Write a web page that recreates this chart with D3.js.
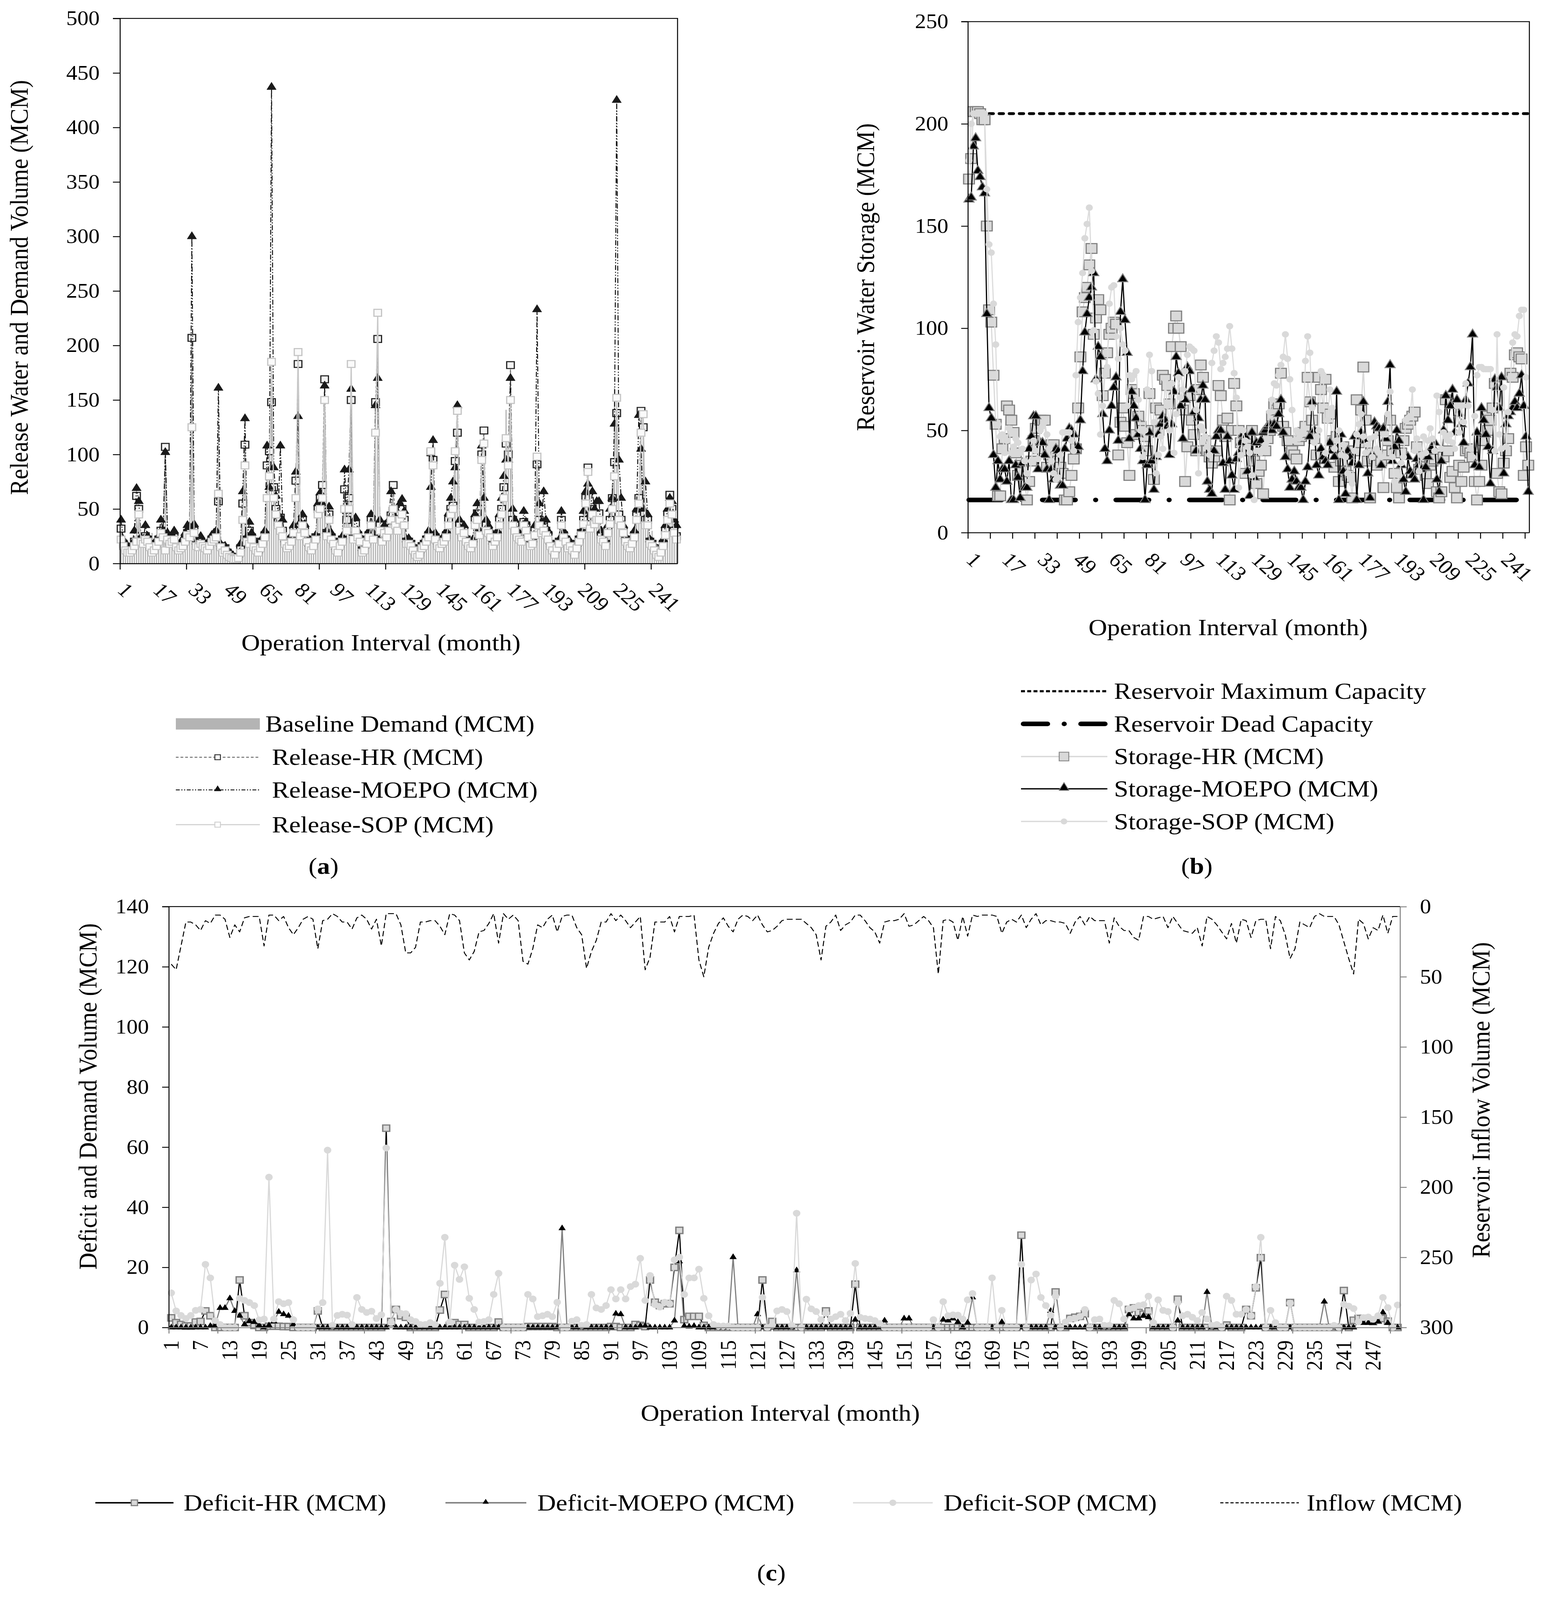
<!DOCTYPE html>
<html><head><meta charset="utf-8">
<script src="https://cdn.jsdelivr.net/npm/d3@7/dist/d3.min.js"></script>
<style>html,body{margin:0;padding:0;background:#fff;overflow:hidden;width:100%;height:100%;}
#chart{display:block;width:100vw;height:100vh;}</style>
</head><body>
<svg id="chart" viewBox="0 0 3954 4509" preserveAspectRatio="none" xmlns="http://www.w3.org/2000/svg"></svg>
<script>
// ---------------- DATA ----------------
const months = d3.range(1, 253);           // operation intervals 1..252
const xLabelsAB = [1,17,33,49,65,81,97,113,129,145,161,177,193,209,225,241];
const xLabelsC = [1,7,13,19,25,31,37,43,49,55,61,67,73,79,85,91,97,103,109,115,121,127,133,139,145,151,157,163,169,175,181,187,193,199,205,211,217,223,229,235,241,247];
const yTicksA = [0,50,100,150,200,250,300,350,400,450,500];
const yTicksB = [0,50,100,150,200,250];
const yTicksC = [0,20,40,60,80,100,120,140];
const yTicksCR = [0,50,100,150,200,250,300];
const maxCapacity = 205;
const deadCapacity = 16;

const demand = [35,20,15,12,12,16,22,68,54,22,20,25,
22,18,28,14,18,22,30,26,107,24,20,22,
24,16,14,16,18,22,28,28,207,30,18,16,
20,18,16,14,18,22,24,26,123,18,18,18,
13,8,6,5,4,6,14,61,120,23,32,25,
21,14,12,16,20,26,90,105,148,70,50,38,
42,30,20,16,18,22,30,76,183,30,40,30,
22,16,14,18,24,50,60,72,169,28,45,24,
20,14,12,18,22,68,40,60,150,26,36,26,
22,12,14,20,26,40,24,148,206,35,22,30,
26,52,44,74,38,35,45,50,40,20,20,18,
14,10,8,10,22,18,22,26,102,109,24,18,
16,20,22,26,40,50,53,94,120,35,26,30,
22,18,16,20,40,46,28,100,122,35,30,26,
18,22,26,40,50,70,141,100,182,40,35,26,
24,34,38,35,29,21,24,35,91,40,30,36,
30,26,18,14,10,22,27,45,30,27,16,18,
14,10,16,22,28,49,60,88,36,50,40,45,
47,26,22,18,36,44,73,161,138,45,40,30,
22,26,16,20,26,44,60,140,125,40,40,20,
30,14,12,11,15,20,32,47,66,52,30,25];

const releaseHR = [32,18,14,12,12,14,20,62,50,22,20,25,
22,16,12,14,18,22,30,26,107,24,20,22,
24,16,14,16,18,22,28,28,207,30,18,16,
20,18,16,14,18,22,24,26,57,16,12,14,
10,8,6,5,4,6,14,55,109,22,30,24,
20,14,12,16,20,26,90,103,148,70,50,38,
42,30,20,16,18,22,30,76,183,30,40,30,
22,16,14,18,24,50,60,72,169,28,45,24,
20,14,12,18,22,68,40,60,150,26,36,26,
22,12,14,20,26,40,24,148,206,35,22,30,
26,36,44,72,38,35,45,50,40,20,20,18,
14,10,8,10,16,18,22,26,102,95,24,18,
16,20,22,26,40,50,53,94,120,35,26,30,
22,18,16,20,40,46,28,100,122,35,30,26,
18,22,26,40,50,70,110,100,182,40,35,26,
24,22,38,35,26,18,20,30,91,40,30,36,
30,26,18,14,10,16,20,40,26,22,16,18,
14,10,16,22,28,40,60,88,36,50,40,45,
46,26,22,18,30,40,60,93,138,45,40,30,
22,18,16,20,26,44,60,140,125,40,40,20,
18,14,10,8,12,18,30,45,63,50,30,25];

const releaseMOEPO = [40,22,18,16,15,18,30,69,57,24,22,35,
25,20,15,18,22,24,40,30,102,28,22,26,
30,18,15,20,22,28,35,34,300,36,20,18,
25,20,18,15,22,26,28,30,161,18,14,16,
12,10,8,6,5,8,18,66,133,25,38,28,
22,15,12,18,24,30,108,70,437,88,62,45,
108,40,22,18,20,26,35,84,135,38,45,36,
25,18,15,20,26,55,65,55,163,30,52,28,
22,15,14,20,25,86,48,86,160,28,42,30,
25,14,16,22,30,45,28,145,170,40,25,35,
30,40,66,38,42,40,55,59,48,22,23,20,
16,12,10,12,18,20,25,30,70,113,28,20,
18,22,26,30,46,60,75,88,145,40,30,35,
25,20,18,22,45,55,30,108,60,40,35,30,
20,25,30,45,60,80,95,95,170,50,40,30,
28,25,48,38,30,20,22,35,233,55,38,66,
40,30,20,15,12,18,22,48,30,25,18,20,
15,12,18,25,30,48,66,73,45,66,50,57,
57,30,25,20,35,50,60,128,425,95,60,35,
25,20,18,22,30,50,136,105,50,75,45,22,
20,15,12,10,15,22,35,50,60,57,40,35];

const releaseSOP = [22,16,12,10,10,12,16,20,45,20,18,22,
20,15,10,12,16,20,28,24,12,22,18,20,
22,15,12,14,16,20,26,24,125,28,16,15,
18,16,14,12,16,20,22,24,64,15,10,12,
8,6,5,4,4,5,10,40,90,20,18,22,
15,12,10,14,18,24,60,80,185,60,45,35,
30,25,18,14,16,20,28,60,194,25,35,28,
20,15,12,16,22,45,50,60,150,25,40,22,
18,12,10,16,20,50,30,50,183,22,30,24,
20,10,12,18,24,35,22,120,230,30,20,28,
24,30,40,50,35,30,40,45,35,18,18,16,
12,8,6,8,14,16,20,24,103,90,22,16,
14,18,20,24,35,45,50,103,140,30,24,28,
20,16,14,18,35,40,26,95,110,30,28,24,
16,20,24,35,45,60,115,90,150,35,30,24,
22,20,35,30,24,16,18,26,98,35,28,30,
26,22,16,12,8,14,18,35,24,20,14,16,
12,8,14,20,26,36,55,84,32,45,36,40,
40,22,20,16,28,36,50,80,152,40,35,28,
20,16,14,18,24,40,55,120,137,35,35,18,
16,12,8,6,10,16,26,40,55,45,28,22];

const storageHR = [173,183,206,206,206,205,202,202,150,109,
103,77,53,18,18,41,46,62,60,55,
49,39,28,33,30,24,16,25,35,45,
51,41,55,55,55,32,38,43,43,38,
35,32,29,16,16,20,28,36,41,61,
86,108,115,120,131,139,97,105,114,109,
67,78,88,97,100,103,102,38,54,61,
52,44,28,70,68,48,57,52,50,47,
40,68,50,26,61,50,60,77,75,72,
63,91,100,106,100,91,60,25,42,67,
55,48,40,70,82,76,45,40,37,34,
37,40,72,67,55,47,56,16,50,73,
62,50,44,41,29,40,46,50,35,24,
30,33,19,40,46,50,57,63,60,63,
78,52,49,45,39,40,38,36,45,47,
49,52,76,64,55,46,38,76,70,61,
75,56,58,45,32,47,25,35,42,30,
28,27,17,40,65,44,60,81,55,35,
17,39,36,33,50,35,22,38,45,55,
40,29,22,17,39,45,51,53,55,57,
59,42,31,34,37,28,24,33,35,36,
20,17,20,37,65,40,27,30,22,17,
33,25,32,40,41,39,37,25,16,25,
33,45,57,50,55,61,73,29,20,19,
34,40,46,78,76,87,88,86,85,28,
42,33];

const storageMOEPO = [163,164,189,193,177,174,169,166,107,61,
56,38,22,35,26,31,31,25,35,16,
16,33,27,17,34,22,22,41,47,57,
57,31,44,44,38,31,16,31,26,41,
40,23,23,41,46,51,50,48,40,42,
55,79,98,107,115,120,127,75,91,86,
58,41,35,50,62,71,76,45,108,124,
104,88,46,69,62,56,48,41,35,16,
33,49,35,21,37,48,53,57,55,52,
38,53,69,86,78,62,46,65,81,79,
70,59,40,56,65,72,65,25,21,19,
40,47,50,50,34,21,47,35,28,21,
36,39,44,48,47,30,18,49,27,44,
39,45,49,50,52,53,50,53,52,58,
65,49,37,31,22,26,30,25,22,22,
16,25,32,47,64,50,33,28,41,37,
35,33,44,40,37,69,16,48,30,19,
40,37,34,47,16,33,49,64,45,29,
17,38,54,52,51,33,51,46,64,82,
35,42,50,45,33,26,20,37,30,28,
26,36,33,31,16,32,37,40,42,44,
26,20,35,50,67,55,62,70,49,65,
58,53,44,65,73,81,97,33,49,32,
61,55,48,42,24,40,75,71,61,76,
29,53,57,59,61,64,61,68,77,62,
47,20];

const storageSOP = [182,200,205,205,205,205,205,205,168,141,
137,112,92,53,47,48,39,45,51,39,
42,46,44,39,41,35,29,25,35,45,
40,36,50,52,54,48,41,35,29,26,
27,38,49,49,49,49,45,40,77,103,
115,127,144,151,159,128,99,74,68,48,
62,77,81,112,120,121,96,85,100,92,
89,62,77,75,77,79,65,50,37,50,
70,87,79,54,29,38,47,41,75,62,
50,73,39,58,76,66,70,79,87,91,
90,89,60,29,52,50,47,42,38,83,
89,96,93,80,83,86,90,101,90,78,
66,22,38,50,45,42,39,28,16,40,
40,39,41,43,45,59,65,73,72,77,
82,86,97,85,75,60,45,50,46,48,
50,84,96,88,61,44,47,50,79,77,
39,55,70,61,41,45,50,38,43,37,
29,27,24,40,48,53,58,47,39,43,
46,37,47,41,39,37,48,48,58,69,
37,25,22,28,34,37,55,56,57,70,
40,46,30,38,47,39,45,51,46,40,
67,59,41,49,47,45,48,44,41,62,
49,62,54,73,62,41,37,57,77,81,
81,80,80,80,80,60,40,97,48,41,
71,42,59,76,93,97,96,106,109,109,
76,34];

const deficitHR = [3.2,1.6,1,0.5,0.5,1.8,2,5.5,3.9,0,
0,0,0,0,15.8,3.9,1.6,0.7,0,0,
0.4,0.4,0.4,0.3,0.3,0,0,0,0,0,
5.5,0,0,0,0,0,0,0,0,0,
0,0,0,0,66.3,2,6,3.9,3.4,0,
0,0,0,0,0,5.8,11,0.7,1.6,1,
1,0,0,0,0,0,0,1.8,0,0,
0,0,0,0.3,0.3,0.3,0.3,0.3,0.3,0,
0,0,0,0,0,0,0,0,0,0,
0.3,0.3,0,0,0,1,0.7,0.3,15.8,8.4,
7.3,7.9,7.9,20,32.3,2.6,3.7,3.7,3.7,0.7,
0,0,0,0,0,0,0,0,0,0,
0,15.8,0,2,0,0,0,0,0,0,
0,0,0,0,5.5,0,0,0,0,0,
14.4,0,0,0,0,0,0,0,0,0,
0,0,0,0,0,0,0,0,0,0,
0,0,0,0,0,0,0,0,0,0,
0,0,0,0,30.7,0,0,0,0,0,
0,11.8,0,0,3,3.4,3.7,4.6,0,0,
0,0,0,0,0,0,6,6.5,5,4.4,
5.5,0,0,0,0,0,9.4,0,0,0,
0,0,0,0,0,0,0.8,0,0,0,
6,3.9,13.2,23.2,0,0,0,0,0,8.3,
0,0,0,0,0,0,0,0,0,0,
12.3,0,2.4,3,3,2.5,2,2.4,3,2.1,
0,0];

const deficitMOEPO = [0,0,0,0,0,0,0,0,0.5,0.7,
6.5,6.5,9.7,5.5,3.9,1,2.1,1.8,0.7,0,
0.7,2,5.2,4.4,3.9,1,0,0,0,0,
0,0,0,0,0,0,0,0,0,0,
0,0,0,0,0,1,0,0,0,0,
0,0,0,0,0,0,0,0,0,0,
0,0,0,0,0,0,0,0,0,0,
0,0,0,0,0,0,0,0,0,0,
33,0,0,0,0,0,0,0,0,0,
0,4.6,4.4,0,0,0,0.5,0.5,0,0,
0,0,0,2.3,22,0.5,0.3,0.5,0,0,
0,0,0,0,0,23.4,0,0,0,0,
4.4,0,0,0,0,0,0,0,19,0,
0,0,0,0,0,0,0,0,0,0,
2.6,0,0,0,0,0,2.3,0,0,0,
3,3,0,0,0,0,0,0,2.6,2.3,
3,1.8,0,1.6,10,0,0,0,0,0,
1.8,0,0,0,0,0,0,0,0,0,
5.5,0,0,0,0,0,0,0,0,0,
0,0,0,0,0,0,4.4,3,3,3.9,
3.4,0,0,0,0,0,2.3,0,0,0,
0,0,11.8,0,0,0,0,0,0,0,
0,0,0,0,0,0,0,0,0,0,
0,0,0,0,0,0,8.6,0,0,0,
0,0,0,1.8,1.5,1.5,1.5,2,5,1.5,
0,0];

const deficitSOP = [11.5,5.5,4,3,4,5.7,6,21,16.5,2.3,
1,0,0,0,9.7,9,8.3,7.3,2.5,2.8,
50,2.8,8.6,7.9,8.3,2.6,0,0,0,0,
6.2,8.3,59,0.7,4,4.4,4.1,1,10,6,
5,5.4,3,4.2,59.7,1.6,6,4.7,4.6,2.6,
2,1,1,1.6,1,14.7,30,1.8,20.7,16,
20.2,9.7,6,1.8,2,2.6,11,18,0,0,
0,0,0,11,9.5,3.6,3.9,4.4,3.6,8.4,
0,0,2.1,2.6,0.7,1,11,6.5,6,7.3,
12.6,9.5,12.6,9.5,13.6,14.4,23,9,17.3,7.6,
6.8,8.4,7.9,22.5,23.4,11,16.5,16.5,19.4,9.7,
3.9,1,0.5,0.5,0.5,0,0,0,0,0,
0,10,0,0.7,5.5,6,5.3,0.7,38,0,
9.4,6.2,5.3,2.6,4.7,2.8,3.6,4.4,2.3,4.7,
21.3,3.4,3,2.8,2.3,1.3,0,0,0,0,
0,0,0,0,0,0,2.6,0,8.6,3.9,
4.2,4.1,2.8,9.2,11.3,0,0,0,16.5,0,
5.7,0,0,0,21,0,15.8,17.8,10,7.3,
4.1,10.4,0,1.8,2.8,3,3.7,6,0,2.6,
2.8,0.7,0.7,9,7.9,2.8,6.2,6.5,7.3,7.6,
10.4,1.6,9.2,5.7,5.3,0,8.3,3.9,4.4,3.4,
2.3,5,2.8,0.7,1,0,10.4,9,4.4,4.4,
6,3.9,13.6,30,0,5.7,1.6,0,0,8.1,
0,0,0,0,0,0,0,0,0.7,0,
7.7,7.1,6.3,1.9,3.3,3.5,2.7,3.9,10,6.6,
0,7.5];

const inflow = [41,45,28,11,11,13,17,10,12,6,
6,9,22,13,18,8,7,7,7,28,
6,6,10,7,15,20,15,9,7,9,
30,10,9,5,7,11,11,16,8,6,
9,16,9,28,5,5,5,13,33,33,
29,11,11,10,10,14,20,5,6,10,
33,38,32,18,17,12,5,26,5,9,
6,10,39,41,30,13,15,9,6,18,
7,6,6,15,20,44,32,24,11,11,
5,10,6,10,15,11,7,45,36,11,
11,11,7,18,7,7,7,6,38,50,
29,19,12,8,14,18,9,6,7,10,
6,13,18,17,14,10,9,9,9,9,
12,15,20,38,14,11,6,17,13,11,
6,6,10,15,18,26,11,10,10,9,
5,14,13,10,7,10,15,48,10,9,
11,24,7,21,6,7,6,6,6,7,
19,11,9,11,6,15,9,5,13,10,
10,11,11,12,19,11,7,13,7,10,
10,10,26,8,14,17,17,22,24,7,
7,9,8,7,15,7,12,17,18,19,
15,28,7,9,13,18,23,12,26,9,
10,22,10,9,9,30,7,10,20,37,
30,11,13,15,7,5,7,7,7,13,
25,37,48,9,12,23,15,17,6,19,
7,7];

// ---------------- DRAWING ----------------
const FONT = '"Liberation Serif","Times New Roman",serif';
const svg = d3.select("#chart");
svg.append("rect").attr("width",3954).attr("height",4509).attr("fill","#fff");

function styleAxis(g, fs, color){
  g.attr("font-family", FONT).attr("font-size", fs);
  g.selectAll("path,line").attr("stroke", color || "#000").attr("stroke-width", 2.5);
  g.selectAll("text").attr("fill", "#000");
}
function tickOnlyAxis(g){ g.selectAll("text").remove(); }
function drawLine(g, xs, ys, vals, color, w, dash){
  g.append("path").datum(months)
    .attr("d", d3.line().x(xs).y(m => ys(vals[m-1])))
    .attr("fill","none").attr("stroke",color).attr("stroke-width",w)
    .attr("stroke-dasharray", dash || null).attr("stroke-linejoin","round");
}
function drawMarkers(g, xs, ys, vals, type, size, fill, stroke, sw){
  g.append("g").selectAll("path").data(months).join("path")
    .attr("transform", m => `translate(${xs(m)},${ys(vals[m-1])})`)
    .attr("d", d3.symbol().type(type).size(size))
    .attr("fill", fill).attr("stroke", stroke || "none").attr("stroke-width", sw || 0);
}
function text(x, y, s, fs, anchor, rot){
  const t = svg.append("text").attr("font-family",FONT).attr("font-size",fs)
    .attr("text-anchor",anchor||"middle").attr("fill","#000")
    .attr("x",x).attr("y",y).attr("dy","0.33em");
  if (rot) t.attr("transform",`rotate(${rot},${x},${y})`);
  t.text(s);
  return t;
}
function panelLabel(x, y, letter){
  const t = svg.append("text").attr("x",x).attr("y",y).attr("dy","0.33em").attr("font-family",FONT).attr("font-size",66)
    .attr("text-anchor","middle");
  t.append("tspan").text("(");
  t.append("tspan").attr("font-weight","bold").text(letter);
  t.append("tspan").text(")");
}
function rotatedLabels(g, scale, vals, y0, dx, dy){
  const ax = g.append("g").attr("transform",`translate(0,${y0})`)
    .call(d3.axisBottom(scale).tickValues(vals).tickSize(0).tickPadding(0));
  ax.select(".domain").remove();
  ax.selectAll(".tick line").remove();
  ax.attr("font-family",FONT).attr("font-size",57);
  ax.selectAll("text").attr("x",dx).attr("y",dy).attr("dy",null).attr("fill","#000")
    .attr("text-anchor","start").attr("transform",`rotate(45,${dx},${dy})`);
}

// ===== Panel (a) =====
const A = {l:307, r:1734, t:52, b:1588};
const xA = d3.scaleBand().domain(months).range([A.l, A.r]);
const cA = m => xA(m) + xA.bandwidth()/2;
const yA = d3.scaleLinear().domain([0,500]).range([A.b, A.t]);
const xAb = d3.scaleLinear().domain([0,252]).range([A.l, A.r]);
const gA = svg.append("g");

gA.append("g").selectAll("rect").data(months).join("rect")
  .attr("x", m => cA(m) - xA.bandwidth()*0.27).attr("width", xA.bandwidth()*0.54)
  .attr("y", m => yA(demand[m-1])).attr("height", m => yA(0) - yA(demand[m-1]))
  .attr("fill","#b4b4b4");

drawLine(gA, cA, yA, releaseHR, "#7f7f7f", 2.5, "7 5");
drawMarkers(gA, cA, yA, releaseHR, d3.symbolSquare, 380, "#f4f4f4", "#222", 3);
drawLine(gA, cA, yA, releaseMOEPO, "#111", 2.5, "14 5 3 5 3 5");
drawMarkers(gA, cA, yA, releaseMOEPO, d3.symbolTriangle, 250, "#1a1a1a", "#1a1a1a", 1);
drawLine(gA, cA, yA, releaseSOP, "#c8c8c8", 3);
drawMarkers(gA, cA, yA, releaseSOP, d3.symbolSquare, 380, "#fafafa", "#c4c4c4", 3);

const axLA = gA.append("g").attr("transform",`translate(${A.l},0)`)
  .call(d3.axisLeft(yA).tickValues(yTicksA).tickSize(18).tickSizeOuter(0).tickPadding(34));
styleAxis(axLA, 57);
const axBA = gA.append("g").attr("transform",`translate(0,${A.b})`)
  .call(d3.axisBottom(xAb).tickValues([0,30,60,90,120,150,180,210,240]).tickSize(17).tickSizeOuter(0));
styleAxis(axBA, 57); tickOnlyAxis(axBA);
gA.append("path").attr("d",`M${A.l-18},${A.t}H${A.r}V${A.b}`).attr("fill","none").attr("stroke","#000").attr("stroke-width",2.5);
rotatedLabels(gA, xA, xLabelsAB, A.b, -12, 78);

text(49, 810, "Release Water and Demand Volume (MCM)", 66, "middle", -90);
text(975, 1811, "Operation Interval (month)", 66, "middle");

// legend (a)
const LA = {x0:450, x1:665};
const legA = svg.append("g");
legA.append("rect").attr("x",LA.x0).attr("y",2040-16).attr("width",LA.x1-LA.x0).attr("height",32).attr("fill","#b4b4b4");
text(679, 2040, "Baseline Demand (MCM)", 66, "start");
function legLine(g, x0, x1, y, color, w, dash, cap){
  g.append("line").attr("x1",x0).attr("x2",x1).attr("y1",y).attr("y2",y)
   .attr("stroke",color).attr("stroke-width",w).attr("stroke-dasharray",dash||null).attr("stroke-linecap",cap||"butt");
}
function legMarker(g, x, y, type, size, fill, stroke, sw){
  g.append("path").attr("transform",`translate(${x},${y})`).attr("d",d3.symbol().type(type).size(size))
   .attr("fill",fill).attr("stroke",stroke||"none").attr("stroke-width",sw||0);
}
legLine(legA, LA.x0, LA.x1, 2134, "#7f7f7f", 3, "7 5");
legMarker(legA, 557, 2134, d3.symbolSquare, 200, "#fff", "#333", 2.5);
text(696, 2134, "Release-HR (MCM)", 66, "start");
legLine(legA, LA.x0, LA.x1, 2226, "#111", 2.5, "10 4 3 4 3 4");
legMarker(legA, 557, 2224, d3.symbolTriangle, 150, "#111");
text(696, 2226, "Release-MOEPO (MCM)", 66, "start");
legLine(legA, LA.x0, LA.x1, 2324, "#d0d0d0", 3);
legMarker(legA, 557, 2324, d3.symbolSquare, 200, "#fff", "#d0d0d0", 2.5);
text(696, 2324, "Release-SOP (MCM)", 66, "start");
panelLabel(828, 2441, "a");

// ===== Panel (b) =====
const B = {l:2477, r:3914, t:61, b:1501};
const xB = d3.scaleBand().domain(months).range([B.l, B.r]);
const cB = m => xB(m) + xB.bandwidth()/2;
const yB = d3.scaleLinear().domain([0,250]).range([B.b, B.t]);
const xBb = d3.scaleLinear().domain([0,252]).range([B.l, B.r]);
const gB = svg.append("g");

gB.append("line").attr("x1",cB(1)).attr("x2",cB(252)).attr("y1",yB(maxCapacity)).attr("y2",yB(maxCapacity))
  .attr("stroke","#000").attr("stroke-width",8).attr("stroke-dasharray","10.5 15.3").attr("stroke-linecap","round");
gB.append("line").attr("x1",cB(1)).attr("x2",cB(252)).attr("y1",yB(deadCapacity)).attr("y2",yB(deadCapacity))
  .attr("stroke","#000").attr("stroke-width",13).attr("stroke-dasharray","84 52 0.1 52").attr("stroke-linecap","round");

drawLine(gB, cB, yB, storageHR, "#d9d9d9", 3);
drawMarkers(gB, cB, yB, storageHR, d3.symbolSquare, 760, "#d9d9d9", "#808080", 3);
drawLine(gB, cB, yB, storageMOEPO, "#000", 3);
drawMarkers(gB, cB, yB, storageMOEPO, d3.symbolTriangle, 290, "#000", "#808080", 2.5);
drawLine(gB, cB, yB, storageSOP, "#dcdcdc", 3);
drawMarkers(gB, cB, yB, storageSOP, d3.symbolCircle, 260, "#d9d9d9");

const axLB = gB.append("g").attr("transform",`translate(${B.l},0)`)
  .call(d3.axisLeft(yB).tickValues(yTicksB).tickSize(17).tickSizeOuter(0).tickPadding(33));
styleAxis(axLB, 57);
const axBB = gB.append("g").attr("transform",`translate(0,${B.b})`)
  .call(d3.axisBottom(xBb).tickValues(d3.range(0,251,10)).tickSize(17).tickSizeOuter(0));
styleAxis(axBB, 57); tickOnlyAxis(axBB);
gB.append("path").attr("d",`M${B.l-17},${B.t}H${B.r}V${B.b}`).attr("fill","none").attr("stroke","#000").attr("stroke-width",2.5);
rotatedLabels(gB, xB, xLabelsAB, B.b, -10, 80);

text(2215, 781, "Reservoir Water Storage (MCM)", 66, "middle", -90);
text(3143, 1768, "Operation Interval (month)", 66, "middle");

// legend (b)
const LB = {x0:2613, x1:2834, xm:2723, tx:2851};
const legB = svg.append("g");
legLine(legB, LB.x0, LB.x1, 1948, "#000", 6, "10 6");
text(LB.tx, 1948, "Reservoir Maximum Capacity", 66, "start");
legLine(legB, LB.x0+6, LB.x1-6, 2040, "#000", 13, "62 42.5 0.1 42.5 62 100", "round");
text(LB.tx, 2040, "Reservoir Dead Capacity", 66, "start");
legLine(legB, LB.x0, LB.x1, 2132, "#d9d9d9", 4);
legMarker(legB, LB.xm, 2132, d3.symbolSquare, 600, "#d9d9d9", "#8c8c8c", 2.5);
text(LB.tx, 2132, "Storage-HR (MCM)", 66, "start");
legLine(legB, LB.x0, LB.x1, 2223, "#000", 3.5);
legMarker(legB, LB.xm, 2220, d3.symbolTriangle, 280, "#000", "#808080", 2);
text(LB.tx, 2223, "Storage-MOEPO (MCM)", 66, "start");
legLine(legB, LB.x0, LB.x1, 2315, "#d9d9d9", 3.5);
legMarker(legB, LB.xm, 2315, d3.symbolCircle, 220, "#d9d9d9");
text(LB.tx, 2315, "Storage-SOP (MCM)", 66, "start");
panelLabel(3063, 2441, "b");

// ===== Panel (c) =====
const C = {l:432, r:3583, t:2555, b:3741};
const xC = d3.scaleBand().domain(months).range([C.l, C.r]);
const cC = m => xC(m) + xC.bandwidth()/2;
const yC = d3.scaleLinear().domain([0,140]).range([C.b, C.t]);
const yCR = d3.scaleLinear().domain([0,300]).range([C.t, C.b]);
const xCb = d3.scaleLinear().domain([0,252]).range([C.l, C.r]);
const gC = svg.append("g");

drawLine(gC, cC, yC, deficitHR, "#000", 3);
drawMarkers(gC, cC, yC, deficitHR, d3.symbolSquare, 320, "#d9d9d9", "#808080", 3.5);
drawLine(gC, cC, yC, deficitMOEPO, "#808080", 3);
drawMarkers(gC, cC, yC, deficitMOEPO, d3.symbolTriangle, 150, "#000");
drawLine(gC, cC, yC, deficitSOP, "#d9d9d9", 3);
drawMarkers(gC, cC, yC, deficitSOP, d3.symbolCircle, 290, "#d9d9d9");
drawLine(gC, cC, yCR, inflow, "#000", 2.5, "15 8");

const axLC = gC.append("g").attr("transform",`translate(${C.l},0)`)
  .call(d3.axisLeft(yC).tickValues(yTicksC).tickSize(17).tickSizeOuter(0).tickPadding(34));
styleAxis(axLC, 57);
const axRC = gC.append("g").attr("transform",`translate(${C.r},0)`)
  .call(d3.axisRight(yCR).tickValues(yTicksCR).tickSize(17).tickSizeOuter(0).tickPadding(34));
styleAxis(axRC, 57, "#808080");
const axBC = gC.append("g").attr("transform",`translate(0,${C.b})`)
  .call(d3.axisBottom(xCb).tickValues(d3.range(0,251,10)).tickSize(17).tickSizeOuter(0));
styleAxis(axBC, 57, "#808080"); tickOnlyAxis(axBC);
gC.append("path").attr("d",`M${C.l-17},${C.t}H${C.r}`).attr("fill","none").attr("stroke","#000").attr("stroke-width",2.5);
const labC = gC.append("g").attr("transform",`translate(0,${C.b})`)
  .call(d3.axisBottom(xC).tickValues(xLabelsC).tickSize(0).tickPadding(0));
labC.select(".domain").remove();
labC.selectAll(".tick line").remove();
labC.attr("font-family",FONT).attr("font-size",57);
labC.selectAll("text").attr("x",0).attr("y",36).attr("dy","0.33em").attr("fill","#000")
  .attr("text-anchor","end").attr("transform","rotate(-90,0,36)");

text(225, 3090, "Deficit and Demand Volume (MCM)", 66, "middle", -90);
text(3790, 3100, "Reservoir Inflow Volume (MCM)", 66, "middle", -90);
text(1997, 3982, "Operation Interval (month)", 66, "middle");

// legend (c)
const legC = svg.append("g");
const LY = 4235;
legLine(legC, 244, 444, LY, "#000", 4);
legMarker(legC, 344, LY, d3.symbolSquare, 260, "#d9d9d9", "#808080", 3);
text(470, LY, "Deficit-HR (MCM)", 66, "start");
legLine(legC, 1140, 1347, LY, "#808080", 4);
legMarker(legC, 1243, LY-2, d3.symbolTriangle, 110, "#000");
text(1375, LY, "Deficit-MOEPO (MCM)", 66, "start");
legLine(legC, 2183, 2387, LY, "#dedede", 4);
legMarker(legC, 2285, LY, d3.symbolCircle, 250, "#d9d9d9");
text(2415, LY, "Deficit-SOP (MCM)", 66, "start");
legLine(legC, 3123, 3324, LY, "#000", 3, "8 5");
text(3344, LY, "Inflow (MCM)", 66, "start");
panelLabel(1974, 4432, "c");
</script>
</body></html>
